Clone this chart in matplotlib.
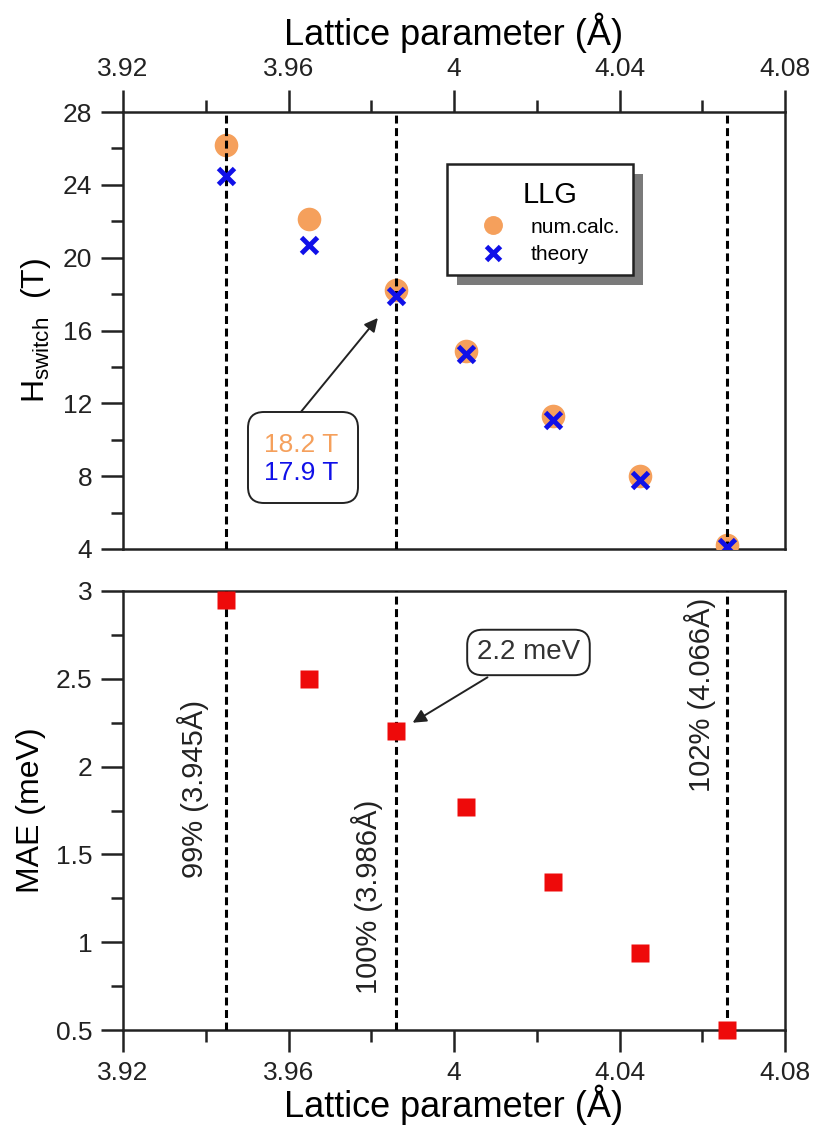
import numpy as np
import matplotlib.pyplot as plt
from matplotlib.patches import Rectangle, FancyBboxPatch
from matplotlib.ticker import MultipleLocator

plt.rcParams['font.family'] = ['Liberation Sans', 'DejaVu Sans']
plt.rcParams['mathtext.default'] = 'regular'

# lattice parameter (A) for each strain step
lattice = [3.945, 3.965, 3.986, 4.003, 4.024, 4.045, 4.066]
# switching field (T)
h_numcalc = [26.2, 22.1, 18.2, 14.9, 11.3, 8.0, 4.2]
h_theory = [24.5, 20.7, 17.9, 14.7, 11.1, 7.8, 4.1]
# magnetic anisotropy energy (meV)
mae = [2.95, 2.5, 2.2, 1.77, 1.34, 0.94, 0.5]

marks = [3.945, 3.986, 4.066]
mark_labels = ['99% (3.945\u00c5)', '100% (3.986\u00c5)', '102% (4.066\u00c5)']

orange = '#f5a05c'
blue = '#1010e8'
red = '#ee0a0a'
ink = '#222222'

fig = plt.figure(figsize=(8.13, 11.35), dpi=100)
W, H = 813., 1135.
ax1 = fig.add_axes([123/W, 1-549/H, 662/W, 437/H])
ax2 = fig.add_axes([123/W, 1-1030/H, 662/W, 439/H])

def fmt(v, pos):
    return '%g' % v

for ax in (ax1, ax2):
    ax.set_xlim(3.92, 4.08)
    ax.xaxis.set_major_locator(MultipleLocator(0.04))
    ax.xaxis.set_minor_locator(MultipleLocator(0.02))
    ax.xaxis.set_major_formatter(plt.FuncFormatter(fmt))
    for s in ax.spines.values():
        s.set_linewidth(1.8)
        s.set_color(ink)
    ax.tick_params(which='both', direction='out', width=1.8, labelsize=19,
                   colors=ink, pad=6)
    ax.tick_params(which='major', length=16)
    ax.tick_params(which='minor', length=8.5)
    for xv in marks:
        ax.axvline(xv, color='black', lw=2.2, ls=(0, (2.6, 1.5)), zorder=3.5)

# top panel: switching field
ax1.set_ylim(4, 28)
ax1.yaxis.set_major_locator(MultipleLocator(4))
ax1.yaxis.set_minor_locator(MultipleLocator(2))
ax1.xaxis.tick_top()
ax1.xaxis.set_label_position('top')
ax1.set_xlabel('Lattice parameter (\u00c5)', fontsize=26, labelpad=9)
ax1.set_ylabel('H$_{switch}$  (T)', fontsize=23, labelpad=7)
ax1.plot(lattice, h_numcalc, 'o', ms=17, color=orange, mec='none', zorder=3, label='num.calc.')
ax1.plot(lattice, h_theory, 'x', ms=12, mew=3.5, color=blue, zorder=4, label='theory')

# legend box with drop shadow
lx, ly, lw_, lh = 0.489, 0.627, 0.281, 0.254
ax1.add_patch(Rectangle((lx+0.015, ly-0.023), lw_, lh, transform=ax1.transAxes,
                        facecolor='#7a7a7a', edgecolor='none', zorder=5))
ax1.add_patch(Rectangle((lx, ly), lw_, lh, transform=ax1.transAxes,
                        facecolor='white', edgecolor=ink, lw=1.8, zorder=6))
leg = ax1.legend(loc='upper center', bbox_to_anchor=(0.645, 0.875), frameon=False,
                 title='LLG', title_fontsize=21, fontsize=15, handletextpad=1.2,
                 handlelength=1.2, labelspacing=0.4, borderpad=0.2, markerscale=0.8)
leg.set_zorder(7)

# callout for the 3.986 point
box1 = FancyBboxPatch((2.48, 6.32), 1.10, 0.91, transform=fig.dpi_scale_trans,
                      boxstyle='round,pad=0,rounding_size=0.16',
                      fc='white', ec=ink, lw=1.4, zorder=6)
ax1.add_patch(box1)
ax1.annotate('', xy=(3.9816, 16.69), xytext=(3.963, 11.53),
             arrowprops=dict(arrowstyle='-|>', color=ink, lw=1.4, mutation_scale=20,
                             shrinkA=0, shrinkB=0), zorder=6)
ax1.text(3.963, 9.71, '18.2 T', ha='center', va='center', fontsize=19, color=orange, zorder=7)
ax1.text(3.963, 8.18, '17.9 T', ha='center', va='center', fontsize=19, color=blue, zorder=7)

# bottom panel: MAE
ax2.set_ylim(0.5, 3)
ax2.yaxis.set_major_locator(MultipleLocator(0.5))
ax2.yaxis.set_minor_locator(MultipleLocator(0.25))
ax2.yaxis.set_major_formatter(plt.FuncFormatter(fmt))
ax2.set_xlabel('Lattice parameter (\u00c5)', fontsize=26, labelpad=0)
ax2.set_ylabel('MAE (meV)', fontsize=23, labelpad=7)
ax2.plot(lattice, mae, 's', ms=13, color=red, mec='none', zorder=4, clip_on=False)

for xv, yv, txt in zip([3.937, 3.979, 4.0595], [1.87, 1.26, 2.41], mark_labels):
    ax2.text(xv, yv, txt, rotation=90, ha='center', va='center', fontsize=21, color=ink)

ax2.annotate('2.2 meV', xy=(3.990, 2.25), xytext=(4.018, 2.65),
             ha='center', va='center', fontsize=20, color='#333333',
             bbox=dict(boxstyle='round,pad=0.35,rounding_size=0.55', fc='white', ec=ink, lw=1.4),
             arrowprops=dict(arrowstyle='-|>', color=ink, lw=1.4, mutation_scale=20, shrinkB=0))

fig.savefig('out.png', dpi=100)
